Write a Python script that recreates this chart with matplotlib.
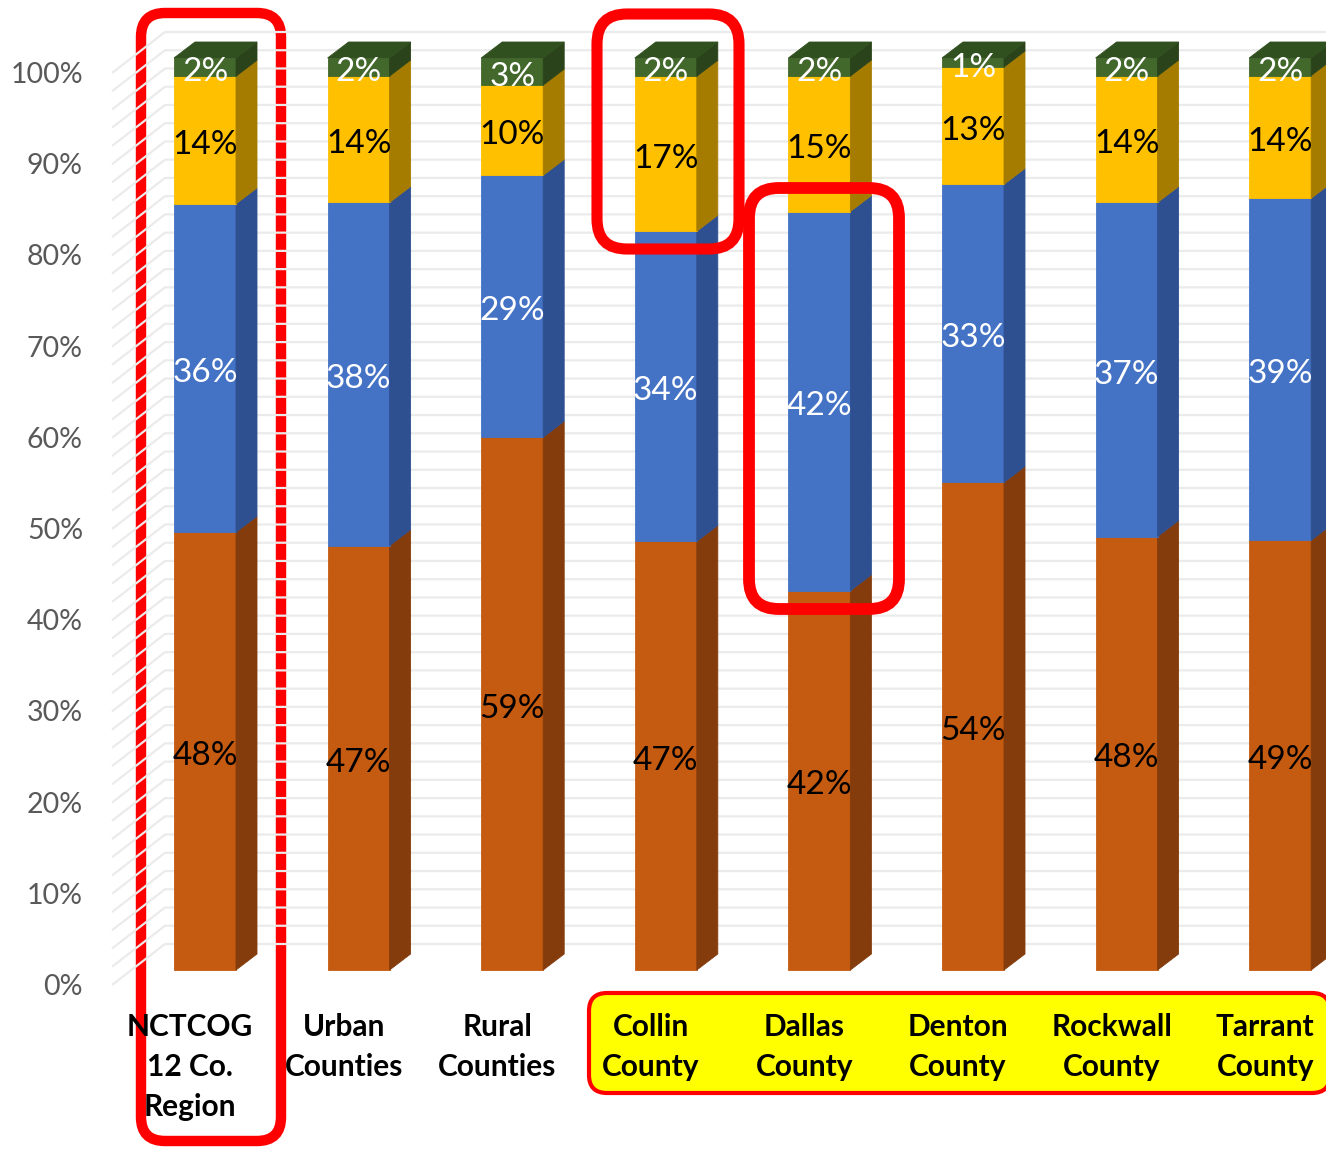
import numpy as np
import matplotlib
matplotlib.use("Agg")
import matplotlib.pyplot as plt
from matplotlib.patches import Polygon, FancyBboxPatch
from matplotlib.transforms import IdentityTransform

categories = ["NCTCOG\n12 Co.\nRegion", "Urban\nCounties", "Rural\nCounties",
              "Collin\nCounty", "Dallas\nCounty", "Denton\nCounty",
              "Rockwall\nCounty", "Tarrant\nCounty"]

# stacked shares, bottom to top
level1 = [48, 47, 59, 47, 42, 54, 48, 49]
level2 = [36, 38, 29, 34, 42, 33, 37, 39]
level3 = [14, 14, 10, 17, 15, 13, 14, 14]
level4 = [2, 2, 3, 2, 2, 1, 2, 2]

ticks = [0, 10, 20, 30, 40, 50, 60, 70, 80, 90, 100]

# front / side / top colours for each level
faces = [("#C55A11", "#843C0C", "#9E4710"),
         ("#4472C4", "#2F5090", "#3A61A8"),
         ("#FFC000", "#A67C00", "#D9A300"),
         ("#43682B", "#2A431B", "#30501F")]
label_colors = ["black", "white", "black", "white"]

W, H = 1326, 1150
PX_X = 153.6   # pixels per category
PX_Y = 9.12    # pixels per percent
bar_w = 62 / PX_X
dx = 21 / PX_X
dy = 16 / PX_Y

fig = plt.figure(figsize=(W / 100, H / 100), dpi=100)
ax = fig.add_axes([0, 0, 1, 1])
ax.set_xlim(-205 / PX_X, (W - 205) / PX_X)
ax.set_ylim((970 - H) / PX_Y, 970 / PX_Y)
ax.axis("off")

font = "Lato"

# back wall gridlines with the slanted side wall
back = 26 / PX_Y
for p in range(0, 101, 2):
    ax.plot([-93 / PX_X, -40 / PX_X, 8.0], [p - 15 / PX_Y, p + back, p + back],
            color="#EBEBEB", lw=1.6, zorder=1, solid_capstyle="butt")

for t in ticks:
    ax.text(-122 / PX_X, t - 17 / PX_Y, f"{t}%", ha="right", va="center",
            fontsize=20.5, color="#595959", family=font, zorder=2)

data = np.array([level1, level2, level3, level4], dtype=float)
shares = data / data.sum(axis=0) * 100

x = np.arange(len(categories))
bottom = np.zeros(len(categories))
for k in range(4):
    front, side, top = faces[k]
    h = shares[k]
    ax.bar(x, h, bottom=bottom, width=bar_w, color=front, edgecolor=front,
           linewidth=0.6, zorder=3)
    for i in x:
        r = i + bar_w / 2
        y0, y1 = bottom[i], bottom[i] + h[i]
        ax.add_patch(Polygon([(r, y0), (r + dx, y0 + dy), (r + dx, y1 + dy), (r, y1)],
                             closed=True, facecolor=side, edgecolor=side,
                             linewidth=0.6, zorder=3))
        if k == 3:
            l = i - bar_w / 2
            ax.add_patch(Polygon([(l, y1), (r, y1), (r + dx, y1 + dy), (l + dx, y1 + dy)],
                                 closed=True, facecolor=top, edgecolor=top,
                                 linewidth=0.6, zorder=3))
        ax.text(i, y0 + h[i] / 2 - 5 / PX_Y, f"{data[k][i]:.0f}%", ha="center",
                va="center", fontsize=24, color=label_colors[k], family=font, zorder=6)
    bottom = bottom + h

for i, name in enumerate(categories):
    for j, line in enumerate(name.split("\n")):
        ax.text(i - 15 / PX_X, (970 - 1027 - 40 * j) / PX_Y, line, ha="center",
                va="center", fontsize=21.5, fontweight="bold", family=font,
                color="black", zorder=12)


def frame(x0, y0, x1, y1, lw, r, z, fill="none"):
    box = FancyBboxPatch((x0, H - y1), x1 - x0, y1 - y0,
                         boxstyle=f"round,pad=0,rounding_size={r}",
                         facecolor=fill, edgecolor="#FF0000", linewidth=lw,
                         transform=IdentityTransform(), zorder=z)
    ax.add_patch(box)


frame(141, 13, 281, 1141, 7.5, 24, 0.5)
frame(597, 14, 739, 249, 8, 30, 10)
frame(749, 188, 899, 609, 8.5, 30, 10)
frame(589, 993, 1330, 1093, 3, 18, 0.8, fill="#FFFF00")

fig.savefig("out.png", dpi=100)
